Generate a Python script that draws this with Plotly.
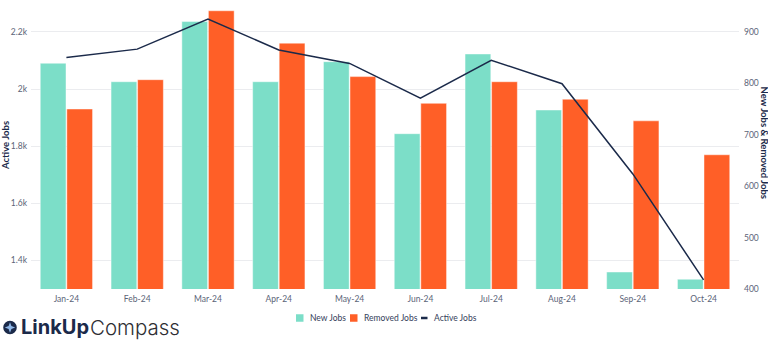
import plotly.graph_objects as go

# Monthly job counts
months = ["Jan-24", "Feb-24", "Mar-24", "Apr-24", "May-24",
          "Jun-24", "Jul-24", "Aug-24", "Sep-24", "Oct-24"]
new_jobs = [839, 803, 920, 803, 842, 702, 857, 748, 433, 419]
removed_jobs = [750, 807, 941, 878, 813, 761, 803, 769, 727, 661]
active_jobs = [2111, 2140, 2245, 2137, 2090, 1968, 2101, 2019, 1703, 1332]

TEAL = "#7CDEC8"
ORANGE = "#FF5F27"
NAVY = "#1B2A4A"
TICK = "#5B6478"
LEGEND_TEXT = "#34405A"
FONT = "Lato"

W, H = 768, 340
ML, MR, MT, MB = 31, 29, 10, 51
PW, PH = W - ML - MR, H - MT - MB


def px(x):
    return (x - ML) / PW


def py(y):
    return (H - MB - y) / PH


fig = go.Figure()

# bars on the right-hand axis, line on the left-hand axis drawn above them
fig.add_trace(go.Bar(x=months, y=new_jobs, name="New Jobs", yaxis="y",
                     marker=dict(color=TEAL, line=dict(color="rgba(255,255,255,0.45)", width=1))))
fig.add_trace(go.Bar(x=months, y=removed_jobs, name="Removed Jobs", yaxis="y",
                     marker=dict(color=ORANGE, line=dict(color="rgba(255,255,255,0.45)", width=1))))
fig.add_trace(go.Scatter(x=months, y=active_jobs, name="Active Jobs", yaxis="y2",
                         mode="lines", line=dict(color=NAVY, width=1.5)))

fig.update_layout(
    width=W, height=H,
    margin=dict(l=ML, r=MR, t=MT, b=MB),
    paper_bgcolor="white", plot_bgcolor="white",
    font=dict(family=FONT, size=8.5, color=TICK),
    showlegend=False,
    barmode="group", bargap=0.25, bargroupgap=0.03,
    xaxis=dict(showgrid=False, showline=False, ticks="", ticklabelstandoff=3,
               tickfont=dict(size=8.5, color=TICK)),
    yaxis=dict(side="right", range=[400, 942.5], dtick=100, showgrid=False,
               zeroline=False, tickfont=dict(size=8.5, color=TICK), ticklabelstandoff=4),
    yaxis2=dict(side="left", overlaying="y", range=[1300, 2277], dtick=200,
                tickformat="~s", showgrid=True, gridcolor="#EBECEF", gridwidth=1,
                zeroline=False, tickfont=dict(size=8.5, color=TICK), ticklabelstandoff=3),
)

annotations = [
    dict(text="<b>Active Jobs</b>", x=px(5), y=py(146), xanchor="center", yanchor="middle",
         textangle=-90, font=dict(size=9.5, color=NAVY, family=FONT)),
    dict(text="<b>New Jobs & Removed Jobs</b>", x=px(763.5), y=py(143), xanchor="center",
         yanchor="middle", textangle=90, font=dict(size=9.5, color=NAVY, family=FONT)),
    dict(text="<b>LinkUp</b>", x=px(19), y=py(327), xanchor="left", yanchor="middle",
         font=dict(size=20, color=NAVY, family="Inter")),
    dict(text="Compass", x=px(88), y=py(327), xanchor="left", yanchor="middle",
         font=dict(size=20.5, color="#2E2E33", family="Inter", weight=300)),
]

shapes = []

# legend row
legend_y = 318
legend_items = [("New Jobs", "square", TEAL, 296, 308),
                ("Removed Jobs", "square", ORANGE, 350, 362),
                ("Active Jobs", "line", NAVY, 421, 432)]
for label, kind, color, sx, tx in legend_items:
    if kind == "square":
        shapes.append(dict(type="rect", x0=px(sx), x1=px(sx + 7.5),
                           y0=py(legend_y + 3.75), y1=py(legend_y - 3.75),
                           fillcolor=color, line=dict(width=0)))
    else:
        shapes.append(dict(type="line", x0=px(sx), x1=px(sx + 6.5),
                           y0=py(legend_y), y1=py(legend_y),
                           line=dict(color=color, width=2.5)))
    annotations.append(dict(text=label, x=px(tx), y=py(legend_y), xanchor="left",
                            yanchor="middle", font=dict(size=8.5, color=LEGEND_TEXT, family=FONT)))

# compass badge beside the wordmark
cx, cy, r = 10, 327.5, 6.8
shapes.append(dict(type="circle", x0=px(cx - r), x1=px(cx + r), y0=py(cy + r), y1=py(cy - r),
                   fillcolor=NAVY, line=dict(width=0)))
outer, inner = 5.2, 1.4
pts = [(cx, cy - outer), (cx + inner, cy - inner), (cx + outer, cy), (cx + inner, cy + inner),
       (cx, cy + outer), (cx - inner, cy + inner), (cx - outer, cy), (cx - inner, cy - inner)]
path = "M" + " L".join(f"{px(a):.5f},{py(b):.5f}" for a, b in pts) + " Z"
shapes.append(dict(type="path", path=path, fillcolor="#8FB7E8", line=dict(width=0)))

for a in annotations:
    a.update(xref="paper", yref="paper", showarrow=False)
for s in shapes:
    s.update(xref="paper", yref="paper")

fig.update_layout(annotations=annotations, shapes=shapes)

fig.write_html("out.html")
